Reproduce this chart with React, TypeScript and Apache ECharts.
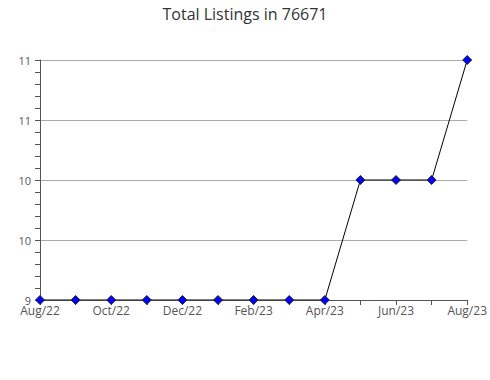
import React, { useEffect, useRef } from "react";
import * as echarts from "echarts";

const months = ["Aug/22","Sep/22","Oct/22","Nov/22","Dec/22","Jan/23","Feb/23","Mar/23","Apr/23","May/23","Jun/23","Jul/23","Aug/23"];
const listings = [9, 9, 9, 9, 9, 9, 9, 9, 9, 10, 10, 10, 11];
const yMin = 9;
const yMax = 11;
const yStep = 0.5;

export default function App() {
  const ref = useRef<HTMLDivElement>(null);
  useEffect(() => {
    document.body.style.margin = "0";
    document.body.style.overflow = "hidden";
    const chart = echarts.init(ref.current!, null, { renderer: "svg" });
    chart.setOption({
      animation: false,
      title: {
        text: "Total Listings in 76671",
        left: "center",
        top: 1,
        textStyle: { fontFamily: "Open Sans", fontSize: 16, fontWeight: "normal", color: "#333" },
      },
      grid: { left: 40, right: 20, top: 60, bottom: 80, containLabel: false },
      xAxis: {
        type: "category",
        data: months,
        boundaryGap: false,
        axisLine: { lineStyle: { color: "#555", width: 1 } },
        axisTick: { show: true, interval: 0, length: 5, lineStyle: { color: "#555" } },
        axisLabel: { interval: 1, color: "#555", fontFamily: "Open Sans", fontSize: 12, margin: 4 },
        splitLine: { show: false },
      },
      yAxis: {
        type: "value",
        min: yMin,
        max: yMax,
        interval: yStep,
        axisLine: { show: true, lineStyle: { color: "#555" } },
        axisTick: { show: true, length: 5, lineStyle: { color: "#555" } },
        minorTick: { show: true, splitNumber: 5, length: 5, lineStyle: { color: "#555" } },
        axisLabel: {
          color: "#555",
          fontFamily: "Open Sans",
          fontSize: 11,
          margin: 9,
          formatter: (v: number) => String(Math.round(v)),
        },
        splitLine: { show: true, lineStyle: { color: "#aaa", width: 1 } },
      },
      series: [
        {
          type: "line",
          data: listings,
          symbol: "diamond",
          symbolSize: 9,
          lineStyle: { color: "#000", width: 1 },
          itemStyle: { color: "#0000ff", borderColor: "#222", borderWidth: 1 },
        },
      ],
    });
    return () => chart.dispose();
  }, []);
  return <div ref={ref} style={{ width: 490, height: 380 }} />;
}
